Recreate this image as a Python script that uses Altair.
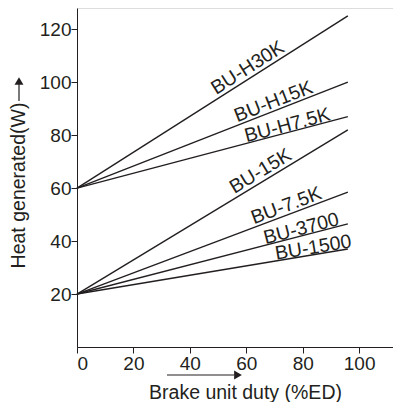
import altair as alt
import pandas as pd

# Series: name, heat at 0 %ED, heat at 96 %ED
names = ["BU-H30K", "BU-H15K", "BU-H7.5K", "BU-15K", "BU-7.5K", "BU-3700", "BU-1500"]
start_w = [60, 60, 60, 20, 20, 20, 20]
end_w = [125, 100, 87, 82, 58.5, 46.5, 37]
duty_start = 0
duty_end = 96

# label anchor (on its line, data units), rotation (degrees) and gap above the line (px)
label_x = [62.4, 70.8, 75.2, 66.9, 75.3, 80.1, 84.1]
label_y = [102.25, 89.5, 81.15, 63.2, 50.2, 42.1, 34.9]
label_angle = [327.6, 338.6, 345.2, 328.8, 339.4, 345.5, 350.6]
label_gap = [4, 3, 1, 4, 3, 1, 1]

x_ticks = [0, 20, 40, 60, 80, 100]
y_ticks = [20, 40, 60, 80, 100, 120]

rows = []
for n, s, e in zip(names, start_w, end_w):
    rows.append({"name": n, "duty": duty_start, "heat": s})
    rows.append({"name": n, "duty": duty_end, "heat": e})
lines_df = pd.DataFrame(rows)
labels_df = pd.DataFrame({"name": names, "x": label_x, "y": label_y,
                          "ang": label_angle, "gap": label_gap})

FONT = "Liberation Sans"
INK = "#231f20"
W, H = 316, 339

xscale = alt.Scale(domain=[0, 112], nice=False, zero=False)
yscale = alt.Scale(domain=[0, 128], nice=False)

lines = alt.Chart(lines_df).mark_line(color=INK, strokeWidth=1.4).encode(
    x=alt.X("duty:Q", scale=xscale,
            axis=alt.Axis(values=x_ticks, title="Brake unit duty (%ED)", grid=False,
                          titleX=168, titleY=45, titleBaseline="middle", titleAlign="center",
                          titleFontWeight="normal", titleFontSize=19.5, titleFont=FONT, titleColor=INK,
                          labelFontSize=19, labelFont=FONT, labelColor=INK, labelPadding=1,
                          tickSize=6, tickColor=INK, domainColor=INK)),
    y=alt.Y("heat:Q", scale=yscale,
            axis=alt.Axis(values=y_ticks, title="Heat generated(W)", grid=False,
                          titleAngle=270, titleX=-59, titleY=177, titleBaseline="middle",
                          titleAlign="center", titleFontWeight="normal", titleFontSize=19.5,
                          titleFont=FONT, titleColor=INK,
                          labelFontSize=19, labelFont=FONT, labelColor=INK, labelPadding=0,
                          tickSize=6, tickColor=INK, domainColor=INK)),
    detail="name:N",
)

label_layers = []
for i in range(len(names)):
    sub = labels_df.iloc[[i]]
    label_layers.append(
        alt.Chart(sub).mark_text(font=FONT, fontSize=19.5, color=INK, align="center",
                                 baseline="alphabetic", angle=float(label_angle[i]),
                                 dy=-float(label_gap[i])).encode(
            x=alt.X("x:Q", scale=xscale),
            y=alt.Y("y:Q", scale=yscale),
            text="name:N",
        )
    )

one = pd.DataFrame({"k": [0]})
# decorative arrows next to axis titles
y_arrow = alt.Chart(one).mark_rule(color=INK, strokeWidth=1.2, clip=False).encode(
    x=alt.value(-58), y=alt.value(93), y2=alt.value(76))
y_head = alt.Chart(one).mark_point(shape="triangle-up", filled=True, color=INK, opacity=1,
                                   size=80, clip=False).encode(
    x=alt.value(-58), y=alt.value(73))
x_arrow = alt.Chart(one).mark_rule(color=INK, strokeWidth=1.2, clip=False).encode(
    x=alt.value(90), x2=alt.value(157), y=alt.value(367))
x_head = alt.Chart(one).mark_point(shape="triangle-right", filled=True, color=INK, opacity=1,
                                   size=80, clip=False).encode(
    x=alt.value(161), y=alt.value(367))

chart = alt.layer(lines, *label_layers, y_arrow, y_head, x_arrow, x_head).properties(
    width=W, height=H, padding=0
).configure_view(stroke=None).configure(background="white")

chart.save("out.html", embed_options={"renderer": "svg", "actions": False})
